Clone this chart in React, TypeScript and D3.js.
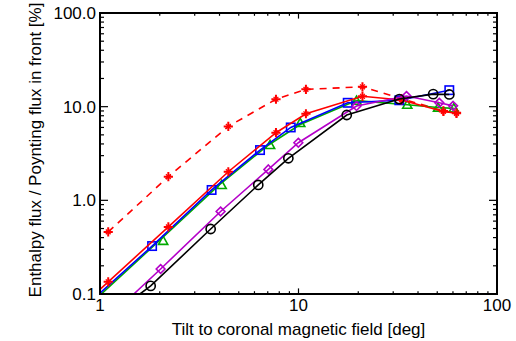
import React from "react";
import * as d3 from "d3";

// ---- data ----
const xTickValues = [1, 10, 100];
const xTickLabels = ["1", "10", "100"];
const yTickValues = [0.1, 1, 10, 100];
const yTickLabels = ["0.1", "1.0", "10.0", "100.0"];

// red (asterisks): solid and dashed share tilt positions
const tiltRed = [1.1, 2.21, 4.43, 7.7, 10.9, 21.0, 33.0, 53.7, 62.5];
const fluxRedSolid = [0.135, 0.52, 2.02, 5.27, 8.4, 12.9, 11.8, 8.9, 8.5];
const fluxRedDashed = [0.46, 1.79, 6.15, 12.0, 15.3, 16.3, 12.2, 9.0, 8.6];
const redSolidStart = [1.0, 0.112];

// blue squares
const tiltBlue = [1.83, 3.65, 6.4, 9.14, 17.7, 32.2, 57.5];
const fluxBlue = [0.325, 1.29, 3.44, 6.0, 11.0, 11.7, 15.0];
const blueStart = [1.0, 0.102];

// green triangles (markers) and green line
const tiltGreen = [2.08, 4.1, 7.19, 10.2, 19.6, 35.3, 50.5, 60.6];
const fluxGreen = [0.37, 1.46, 3.9, 6.7, 11.6, 10.5, 9.8, 9.6];
const tiltGreenLine = [1.0, 2.0, 4.0, 7.0, 10.2, 19.6, 35.3, 50.5, 60.6];
const fluxGreenLine = [0.097, 0.375, 1.47, 3.85, 6.45, 11.6, 10.5, 9.8, 9.6];

// magenta diamonds
const tiltMagenta = [2.02, 4.05, 7.05, 9.98, 19.6, 35.0, 51.2, 60.1];
const fluxMagenta = [0.185, 0.76, 2.14, 4.12, 10.15, 13.0, 11.0, 10.2];
const magentaStart = [1.48, 0.1];

// black circles
const tiltBlack = [1.8, 3.61, 6.27, 8.89, 17.5, 32.2, 47.7, 57.5];
const fluxBlack = [0.122, 0.494, 1.46, 2.81, 8.15, 12.05, 13.6, 13.5];
const blackStart = [1.59, 0.1];

const W = 516;
const H = 341;
const M = { left: 100, right: 497, top: 13, bottom: 294 };
const FONT = "'Liberation Sans', Arial, Helvetica, sans-serif";

const RED = "#ff0000";
const BLUE = "#0000ff";
const GREEN = "#00aa00";
const MAGENTA = "#b400c8";
const BLACK = "#000000";

type Pt = [number, number];
const zip = (xs: number[], ys: number[]): Pt[] => xs.map((x, i) => [x, ys[i]]);

export default function App() {
  const x = d3.scaleLog().domain([1, 100]).range([M.left, M.right]);
  const y = d3.scaleLog().domain([0.1, 100]).range([M.bottom, M.top]);
  const line = d3
    .line<Pt>()
    .x((d) => x(d[0]))
    .y((d) => y(d[1]));

  const minorX: number[] = [];
  for (const dec of [1, 10]) for (let k = 2; k <= 9; k++) minorX.push(dec * k);
  const minorY: number[] = [];
  for (const dec of [0.1, 1, 10]) for (let k = 2; k <= 9; k++) minorY.push(dec * k);

  const xMajLen = 5.6, xMinLen = 2.8, yMajLen = 8, yMinLen = 4;

  const redSolid = zip(tiltRed, fluxRedSolid);
  const redDashed = zip(tiltRed, fluxRedDashed);
  const blue = zip(tiltBlue, fluxBlue);
  const green = zip(tiltGreen, fluxGreen);
  const greenLine = zip(tiltGreenLine, fluxGreenLine);
  const magenta = zip(tiltMagenta, fluxMagenta);
  const black = zip(tiltBlack, fluxBlack);

  const sw = 1.6;

  const asterisk = (p: Pt, i: number, c: string) => (
    <g key={i} transform={`translate(${x(p[0])},${y(p[1])})`} stroke={c} fill="none">
      <path d="M-4.6,0H4.6M0,-4.6V4.6" strokeWidth={2} />
      <path d="M-2.4,-2.4L2.4,2.4M-2.4,2.4L2.4,-2.4" strokeWidth={1.3} />
    </g>
  );
  const square = (p: Pt, i: number) => (
    <rect key={i} x={x(p[0]) - 4.2} y={y(p[1]) - 4.2} width={8.4} height={8.4} stroke={BLUE} strokeWidth={1.6} fill="none" />
  );
  const triangle = (p: Pt, i: number) => (
    <path key={i} transform={`translate(${x(p[0])},${y(p[1])})`} d="M-4.6,3.6L0,-4.6L4.6,3.6Z" stroke={GREEN} strokeWidth={1.6} fill="none" />
  );
  const diamond = (p: Pt, i: number) => (
    <path key={i} transform={`translate(${x(p[0])},${y(p[1])})`} d="M0,-4.4L4.4,0L0,4.4L-4.4,0Z" stroke={MAGENTA} strokeWidth={1.6} fill="none" />
  );
  const circle = (p: Pt, i: number) => (
    <circle key={i} cx={x(p[0])} cy={y(p[1])} r={4.6} stroke={BLACK} strokeWidth={1.6} fill="none" />
  );

  return (
    <svg width={W} height={H} style={{ position: "absolute", left: 0, top: 0, background: "#fff" }} fontFamily={FONT}>
      <defs>
        <clipPath id="plotclip">
          <rect x={M.left} y={M.top} width={M.right - M.left} height={M.bottom - M.top} />
        </clipPath>
      </defs>
      <rect x={0} y={0} width={W} height={H} fill="#fff" />

      <g clipPath="url(#plotclip)">
        <path d={line(redDashed) || ""} stroke={RED} strokeWidth={sw} fill="none" strokeDasharray="7,6" />
        {redDashed.map((p, i) => asterisk(p, i, RED))}

        <path d={line(greenLine) || ""} stroke={GREEN} strokeWidth={sw} fill="none" />
        {green.map(triangle)}

        <path d={line([blueStart as Pt, ...blue]) || ""} stroke={BLUE} strokeWidth={sw} fill="none" />
        {blue.map(square)}

        <path d={line([redSolidStart as Pt, ...redSolid]) || ""} stroke={RED} strokeWidth={sw} fill="none" />
        {redSolid.map((p, i) => asterisk(p, i, RED))}

        <path d={line([magentaStart as Pt, ...magenta]) || ""} stroke={MAGENTA} strokeWidth={sw} fill="none" />
        {magenta.map(diamond)}

        <path d={line([blackStart as Pt, ...black]) || ""} stroke={BLACK} strokeWidth={sw} fill="none" />
        {black.map(circle)}
      </g>

      {/* ticks */}
      <g stroke="#000" strokeWidth={1.2}>
        {xTickValues.map((v) => (
          <g key={"xM" + v}>
            <line x1={x(v)} x2={x(v)} y1={M.bottom} y2={M.bottom - xMajLen} />
            <line x1={x(v)} x2={x(v)} y1={M.top} y2={M.top + xMajLen} />
          </g>
        ))}
        {minorX.map((v) => (
          <g key={"xm" + v}>
            <line x1={x(v)} x2={x(v)} y1={M.bottom} y2={M.bottom - xMinLen} />
            <line x1={x(v)} x2={x(v)} y1={M.top} y2={M.top + xMinLen} />
          </g>
        ))}
        {yTickValues.map((v) => (
          <g key={"yM" + v}>
            <line x1={M.left} x2={M.left + yMajLen} y1={y(v)} y2={y(v)} />
            <line x1={M.right} x2={M.right - yMajLen} y1={y(v)} y2={y(v)} />
          </g>
        ))}
        {minorY.map((v) => (
          <g key={"ym" + v}>
            <line x1={M.left} x2={M.left + yMinLen} y1={y(v)} y2={y(v)} />
            <line x1={M.right} x2={M.right - yMinLen} y1={y(v)} y2={y(v)} />
          </g>
        ))}
      </g>

      <rect x={M.left} y={M.top} width={M.right - M.left} height={M.bottom - M.top} fill="none" stroke="#000" strokeWidth={2} />

      {/* tick labels */}
      <g fontSize={17} fill="#000">
        {yTickValues.map((v, i) => (
          <text key={"yl" + v} x={M.left - 4} y={y(v) + 6} textAnchor="end">
            {yTickLabels[i]}
          </text>
        ))}
        {xTickValues.map((v, i) => (
          <text key={"xl" + v} x={x(v)} y={M.bottom + 17} textAnchor="middle">
            {xTickLabels[i]}
          </text>
        ))}
      </g>

      <text x={(M.left + M.right) / 2} y={335} textAnchor="middle" fontSize={17} fill="#000">
        Tilt to coronal magnetic field [deg]
      </text>
      <text transform={`translate(41,150) rotate(-90)`} textAnchor="middle" fontSize={17} fill="#000">
        Enthalpy flux / Poynting flux in front [%]
      </text>
    </svg>
  );
}
